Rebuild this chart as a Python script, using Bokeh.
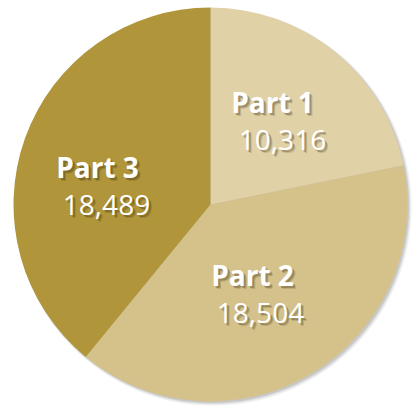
import math
import numpy as np
from bokeh.plotting import figure
from bokeh.models import Range1d, ColumnDataSource
from bokeh.core.properties import value
from bokeh.embed import file_html
from bokeh.resources import INLINE

# ---- data ----
parts = ["Part 1", "Part 2", "Part 3"]
values = [10316, 18504, 18489]
colors = ["#e0d1a7", "#d5c28b", "#b0953a"]

# ---- layout (label anchors relative to pie centre, px) ----
name_dx = [62, 42, -113]
name_dy = [103, -70, 38]
num_dx = [72, 50, -104]
num_dy = [65, -108, 0]

W, H = 417, 406
cx, cy, R = 210, H - 204, 197

p = figure(width=W, height=H, output_backend="svg", toolbar_location=None,
           x_range=Range1d(0, W), y_range=Range1d(0, H), min_border=0)
p.axis.visible = False
p.grid.visible = False
p.outline_line_color = None
p.background_fill_color = "white"
p.border_fill_color = "white"

# soft shadow
for off, extra, a in [(2.5, 1.5, 0.10), (2.0, 0.5, 0.12), (1.5, 0.0, 0.15)]:
    p.circle(x=[cx + off], y=[cy - off], radius=R + extra, fill_color="#555555",
             fill_alpha=a, line_color=None)

vals = np.array(values, dtype=float)
frac = vals / vals.sum()
cum = np.concatenate([[0], np.cumsum(frac)])
start = [math.pi / 2 - cum[i + 1] * 2 * math.pi for i in range(len(values))]
end = [math.pi / 2 - cum[i] * 2 * math.pi for i in range(len(values))]
src = ColumnDataSource(dict(start=start, end=end, color=colors))
p.wedge(x=cx, y=cy, radius=R, start_angle="start", end_angle="end",
        fill_color="color", line_color=None, source=src)

names = parts
nums = [f"{v:,}" for v in values]
nx = [cx + d for d in name_dx]
ny = [cy + d for d in name_dy]
vx = [cx + d for d in num_dx]
vy = [cy + d for d in num_dy]

FONT = value("Open Sans")
for (sx, sy, a) in [(3, 3, 0.18), (2, 2, 0.3)]:
    p.text(x=nx, y=ny, text=names, text_font=FONT, text_font_size="28px",
           text_font_style="bold", text_color="#3a2e10", text_alpha=a,
           text_align="center", text_baseline="alphabetic", x_offset=sx, y_offset=sy)
    p.text(x=vx, y=vy, text=nums, text_font=FONT, text_font_size="28px",
           text_color="#3a2e10", text_alpha=a,
           text_align="center", text_baseline="alphabetic", x_offset=sx, y_offset=sy)
p.text(x=nx, y=ny, text=names, text_font=FONT, text_font_size="28px",
       text_font_style="bold", text_color="white",
       text_align="center", text_baseline="alphabetic")
p.text(x=vx, y=vy, text=nums, text_font=FONT, text_font_size="28px",
       text_color="white", text_align="center", text_baseline="alphabetic")

open("out.html", "w").write(file_html(p, INLINE))
